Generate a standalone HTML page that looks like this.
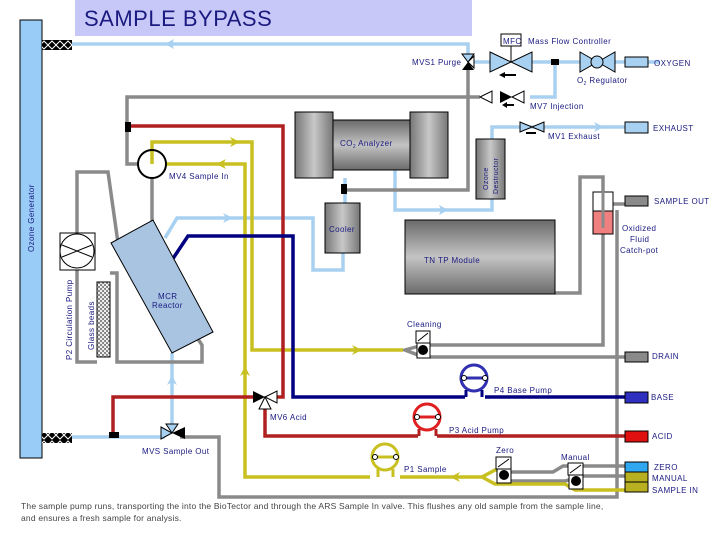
<!DOCTYPE html>
<html><head><meta charset="utf-8"><style>
body{margin:0;background:#fff;width:720px;height:540px;overflow:hidden}
svg{display:block}
text{font-family:"Liberation Sans",sans-serif;fill:#1a1a80;font-size:8px;letter-spacing:0.4px}
</style></head><body>
<svg width="720" height="540" viewBox="0 0 720 540" xmlns="http://www.w3.org/2000/svg">
<defs>
<linearGradient id="gv" x1="0" y1="0" x2="0" y2="1"><stop offset="0" stop-color="#6a6a6a"/><stop offset="0.5" stop-color="#c4c4c4"/><stop offset="1" stop-color="#6a6a6a"/></linearGradient>
<linearGradient id="gh" x1="0" y1="0" x2="1" y2="0"><stop offset="0" stop-color="#777"/><stop offset="0.5" stop-color="#c8c8c8"/><stop offset="1" stop-color="#777"/></linearGradient>
<pattern id="chk" width="4" height="4" patternUnits="userSpaceOnUse"><rect width="4" height="4" fill="#eee"/><rect width="2" height="2" fill="#888"/><rect x="2" y="2" width="2" height="2" fill="#888"/></pattern>
<pattern id="xx" width="8" height="10" patternUnits="userSpaceOnUse"><rect width="8" height="10" fill="#000"/><path d="M0 5L4 1L8 5L4 9Z" fill="none" stroke="#fff" stroke-width="1"/></pattern>
</defs>

<rect x="75" y="0" width="397" height="36" fill="#c8c8f8"/>
<text x="84" y="26" style="font-size:22px;fill:#1a1a80;letter-spacing:0.5px">SAMPLE BYPASS</text>

<rect x="20" y="20" width="22" height="438" fill="#99ccf6" stroke="#000"/>
<text transform="translate(34,252) rotate(-90)" style="font-size:8px">Ozone Generator</text>
<rect x="42" y="40" width="30" height="10" fill="url(#xx)"/>
<rect x="42" y="433" width="30" height="10" fill="url(#xx)"/>

<g fill="none" stroke-linejoin="miter">
<g stroke="#a8d0f0" stroke-width="3.5">
<polyline points="72,44 468,44 468,58"/>
<polyline points="472,62 490,62"/>
<polyline points="532,62 660,62"/>
<polyline points="555,62 555,97 530,97"/>
<polyline points="395,170 395,210 492,210 492,199"/>
<polyline points="492,139 492,127 625,127"/>
<polyline points="345,178 345,203"/>
<polyline points="343,253 343,270 313,270 313,218 177,218 165,238"/>
<polyline points="72,437 165,437"/>
<polyline points="172,353 172,428"/>
</g>
<g stroke="#8a8a8a" stroke-width="3.5">
<polyline points="480,97 127,97 127,164 138,164"/>
<polyline points="468,70 468,190 345,190"/>
<polyline points="152,178 152,226"/>
<polyline points="77,233 77,172 108,172 118,243"/>
<polyline points="77,270 77,362 97,362"/>
<polyline points="110,273 117,273 117,362 202,362 202,345 196,336"/>
<polyline points="555,293 580,293 580,177 603,177 603,228"/>
<polyline points="603,234 603,345 423,345"/>
<polyline points="617,210 617,497 219,497 219,437 180,437"/>
<polyline points="612,204 625,204"/>
<polyline points="430,357 625,357"/>
<polyline points="423,345 405,350 423,357"/>
<polyline points="510,472 553,472 563,466 625,466"/>
<polyline points="582,476 625,476"/>
<polyline points="582,476 565,481 510,481"/>
</g>
<g stroke="#c8c020" stroke-width="3.5">
<polyline points="152,164 152,142 252,142 252,350 403,350"/>
<polyline points="165,164 245,164 245,477 370,477"/>
<polyline points="400,477 482,477"/>
<polyline points="482,477 495,470 503,470"/>
<polyline points="482,477 495,484 565,484 575,490 625,490"/>
</g>
<g stroke="#b02020" stroke-width="3.5">
<polyline points="130,126 283,126 283,397 270,397"/>
<polyline points="258,397 113,397 113,433"/>
<polyline points="265,405 265,436 418,436"/>
<polyline points="437,436 625,436"/>
</g>
<g stroke="#000080" stroke-width="3.5">
<polyline points="625,397 485,397"/>
<polyline points="465,397 293,397 293,236 188,236 172,260"/>
</g>
</g>

<g fill="#a8d0f0">
<path d="M165,44 L174,39 L172,44 L174,49Z"/>
<path d="M448,210 L439,205 L441,210 L439,215Z"/>
<path d="M604,127 L594,122 L597,127 L594,132Z"/>
<path d="M233,218 L223,213 L226,218 L223,223Z"/>
<path d="M172,375 L167,385 L172,382 L177,385Z"/>
</g>
<g fill="#c8c020">
<path d="M240,142 L230,137 L233,142 L230,147Z"/>
<path d="M216,164 L226,159 L223,164 L226,169Z"/>
<path d="M362,350 L352,345 L355,350 L352,355Z"/>
<path d="M245,366 L240,376 L245,373 L250,376Z"/>
<path d="M450,477 L460,472 L457,477 L460,482Z"/>
</g>

<rect x="295" y="112" width="38" height="66" fill="url(#gh)" stroke="#000"/>
<rect x="333" y="120" width="77" height="50" fill="url(#gv)" stroke="#000"/>
<rect x="410" y="112" width="38" height="66" fill="url(#gh)" stroke="#000"/>
<text x="340" y="146">CO<tspan style="font-size:5px" dy="2">2</tspan><tspan dy="-2"> Analyzer</tspan></text>

<rect x="476" y="139" width="29" height="60" fill="url(#gh)" stroke="#000"/>
<text transform="translate(488,190) rotate(-90)" style="font-size:7px">Ozone</text>
<text transform="translate(498,194) rotate(-90)" style="font-size:7px">Destructor</text>

<rect x="325" y="203" width="35" height="50" fill="url(#gh)" stroke="#000"/>
<text x="329" y="232">Cooler</text>

<rect x="405" y="220" width="150" height="74" fill="url(#gv)" stroke="#000"/>
<text x="424" y="263">TN TP Module</text>

<rect x="125" y="122" width="6" height="10" fill="#000"/>
<rect x="341" y="184" width="6" height="10" fill="#000"/>
<rect x="109" y="432" width="10" height="6" fill="#000"/>
<rect x="551" y="59" width="8" height="6" fill="#000"/>

<circle cx="152" cy="164" r="14" fill="none" stroke="#000" stroke-width="2"/>
<text x="169" y="179">MV4 Sample In</text>

<polygon points="111,243 153,220 213,332 172,353" fill="#a8c4e0" stroke="#000"/>
<text x="158" y="299">MCR</text><text x="152" y="308">Reactor</text>

<rect x="60" y="233" width="35" height="37" fill="#fff" stroke="#000"/>
<circle cx="77" cy="251" r="17" fill="#fff" stroke="#000"/>
<path d="M62,245 L77,251 L92,245 M62,257 L77,251 L92,257" stroke="#000" fill="none"/>
<text transform="translate(72,360) rotate(-90)">P2 Circulation Pump</text>
<rect x="97" y="282" width="13" height="75" fill="url(#chk)" stroke="#000"/>
<text transform="translate(94,350) rotate(-90)">Glass beads</text>

<rect x="593" y="192" width="20" height="42" fill="#fff" stroke="#000"/>
<rect x="593" y="211" width="20" height="23" fill="#f08080" stroke="#000"/>
<line x1="603" y1="177" x2="603" y2="228" stroke="#8a8a8a" stroke-width="3"/>
<text x="622" y="231">Oxidized</text><text x="630" y="242">Fluid</text><text x="620" y="253">Catch-pot</text>

<path d="M462,54 L474,54 L468,62Z" fill="#a8d0f0" stroke="#000"/>
<path d="M468,62 L474,56 L474,68Z" fill="#fff" stroke="#000"/>
<path d="M462,70 L474,70 L468,62Z" fill="#000"/>
<text x="412" y="65">MVS1 Purge</text>
<path d="M490,52 L532,72 L532,52 L490,72Z" fill="#a8d0f0" stroke="#000"/>
<line x1="511" y1="46" x2="511" y2="62" stroke="#000"/>
<rect x="501" y="34" width="20" height="12" fill="#fff" stroke="#000"/>
<text x="503" y="44">MFC</text>
<text x="528" y="44">Mass Flow Controller</text>
<path d="M502,75 L516,75" stroke="#000" stroke-width="2"/><path d="M499,75 L505,72 L505,78Z" fill="#000"/>
<path d="M580,52 L615,72 L615,52 L580,72Z" fill="#a8d0f0" stroke="#000"/>
<circle cx="597" cy="62" r="6" fill="#a8d0f0" stroke="#000"/>
<rect x="625" y="57" width="23" height="10" fill="#a8d0f0" stroke="#000"/>
<text x="654" y="66">OXYGEN</text>
<text x="577" y="83">O<tspan style="font-size:5px" dy="2">2</tspan><tspan dy="-2"> Regulator</tspan></text>
<path d="M480,97 L492,91 L492,103Z" fill="#fff" stroke="#000"/>
<path d="M500,91 L512,97 L500,103Z" fill="#000"/>
<path d="M512,97 L524,91 L524,103Z" fill="#fff" stroke="#000"/>
<path d="M505,105 L514,105" stroke="#000" stroke-width="2"/><path d="M502,105 L507,102 L507,108Z" fill="#000"/>
<text x="530" y="109">MV7 Injection</text>
<path d="M520,122 L544,132 L544,122 L520,132Z" fill="#a8d0f0" stroke="#000"/>
<path d="M526,133 L536,133" stroke="#000" stroke-width="2"/>
<text x="548" y="139">MV1 Exhaust</text>
<rect x="625" y="122" width="23" height="11" fill="#a8d0f0" stroke="#000"/>
<text x="653" y="131">EXHAUST</text>
<rect x="625" y="196" width="23" height="10" fill="#8a8a8a" stroke="#000"/>
<text x="654" y="204">SAMPLE OUT</text>

<rect x="416" y="331" width="14" height="12" fill="#fff" stroke="#000"/>
<line x1="418" y1="341" x2="428" y2="333" stroke="#000"/>
<rect x="417" y="343" width="13" height="15" fill="#fff" stroke="#000"/>
<circle cx="423" cy="350" r="5" fill="#000"/>
<text x="407" y="327">Cleaning</text>
<rect x="625" y="352" width="23" height="10" fill="#8a8a8a" stroke="#000"/>
<text x="652" y="359">DRAIN</text>

<circle cx="474" cy="378" r="13" fill="#fff" stroke="#3030b0" stroke-width="3"/>
<line x1="464" y1="378" x2="485" y2="378" stroke="#3030b0" stroke-width="3"/>
<circle cx="464" cy="378" r="2.5" fill="#fff" stroke="#000"/><circle cx="485" cy="378" r="2.5" fill="#fff" stroke="#000"/>
<path d="M466,390 L466,397 M482,390 L482,397" stroke="#000080" stroke-width="3"/>
<text x="494" y="393">P4 Base Pump</text>
<rect x="625" y="392" width="23" height="11" fill="#3030c0" stroke="#000"/>
<text x="651" y="400">BASE</text>

<circle cx="427" cy="417" r="13" fill="#fff" stroke="#e02020" stroke-width="3"/>
<line x1="417" y1="417" x2="438" y2="417" stroke="#e02020" stroke-width="3"/>
<circle cx="417" cy="417" r="2.5" fill="#fff" stroke="#000"/><circle cx="438" cy="417" r="2.5" fill="#fff" stroke="#000"/>
<path d="M419,429 L419,436 M436,429 L436,436" stroke="#b02020" stroke-width="3"/>
<text x="449" y="433">P3 Acid Pump</text>
<rect x="625" y="431" width="23" height="11" fill="#e01010" stroke="#000"/>
<text x="652" y="439">ACID</text>

<circle cx="385" cy="457" r="13" fill="#fff" stroke="#c8c020" stroke-width="3"/>
<line x1="375" y1="457" x2="396" y2="457" stroke="#c8c020" stroke-width="3"/>
<circle cx="375" cy="457" r="2.5" fill="#fff" stroke="#000"/><circle cx="396" cy="457" r="2.5" fill="#fff" stroke="#000"/>
<path d="M378,469 L378,477 M393,469 L393,477" stroke="#c8c020" stroke-width="3"/>
<text x="404" y="472">P1 Sample</text>

<rect x="496" y="457" width="15" height="12" fill="#fff" stroke="#000"/>
<line x1="498" y1="467" x2="509" y2="459" stroke="#000"/>
<rect x="497" y="469" width="14" height="14" fill="#fff" stroke="#000"/>
<circle cx="504" cy="475" r="5" fill="#000"/>
<text x="496" y="453">Zero</text>
<rect x="568" y="463" width="15" height="12" fill="#fff" stroke="#000"/>
<line x1="570" y1="473" x2="581" y2="465" stroke="#000"/>
<rect x="569" y="475" width="14" height="14" fill="#fff" stroke="#000"/>
<circle cx="576" cy="481" r="5" fill="#000"/>
<text x="561" y="460">Manual</text>
<rect x="625" y="462" width="23" height="10" fill="#30a8f0" stroke="#000"/>
<rect x="625" y="472" width="23" height="10" fill="#b8b020" stroke="#000"/>
<rect x="625" y="482" width="23" height="10" fill="#b8b020" stroke="#000"/>
<text x="654" y="470">ZERO</text><text x="652" y="481">MANUAL</text><text x="652" y="493">SAMPLE IN</text>

<path d="M253,391 L265,397 L253,403Z" fill="#000"/>
<path d="M265,397 L277,391 L277,403Z" fill="#fff" stroke="#000"/>
<path d="M265,397 L259,409 L271,409Z" fill="#fff" stroke="#000"/>
<text x="270" y="420">MV6 Acid</text>
<path d="M166,424 L178,424 L172,433Z" fill="#a8d0f0" stroke="#000"/>
<path d="M161,427 L172,433 L161,439Z" fill="#a8d0f0" stroke="#000"/>
<path d="M172,433 L185,427 L185,439Z" fill="#000"/>
<text x="142" y="454">MVS Sample Out</text>

<text x="21" y="509" style="fill:#444;font-size:8.5px;letter-spacing:0.2px">The sample pump runs, transporting the into the BioTector and through the ARS Sample In valve. This flushes any old sample from the sample line,</text>
<text x="21" y="521" style="fill:#444;font-size:8.5px;letter-spacing:0.2px">and ensures a fresh sample for analysis.</text>
</svg>
</body></html>
